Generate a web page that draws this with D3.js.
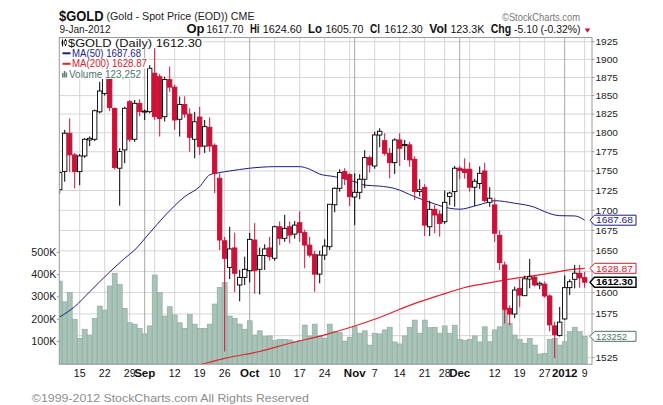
<!DOCTYPE html>
<html><head><meta charset="utf-8">
<script src="https://cdn.jsdelivr.net/npm/d3@7"></script>
<style>
html,body{margin:0;padding:0;background:#fff;}
svg{display:block;}
text{font-family:"Liberation Sans",Arial,sans-serif;}
</style></head><body>
<svg id="c" width="663" height="405"></svg>
<script>
// ---------------- DATA ----------------
const dates = [
"2011-08-09","2011-08-10","2011-08-11","2011-08-12",
"2011-08-15","2011-08-16","2011-08-17","2011-08-18","2011-08-19",
"2011-08-22","2011-08-23","2011-08-24","2011-08-25","2011-08-26",
"2011-08-29","2011-08-30","2011-08-31","2011-09-01","2011-09-02",
"2011-09-06","2011-09-07","2011-09-08","2011-09-09",
"2011-09-12","2011-09-13","2011-09-14","2011-09-15","2011-09-16",
"2011-09-19","2011-09-20","2011-09-21","2011-09-22","2011-09-23",
"2011-09-26","2011-09-27","2011-09-28","2011-09-29","2011-09-30",
"2011-10-03","2011-10-04","2011-10-05","2011-10-06","2011-10-07",
"2011-10-10","2011-10-11","2011-10-12","2011-10-13","2011-10-14",
"2011-10-17","2011-10-18","2011-10-19","2011-10-20","2011-10-21",
"2011-10-24","2011-10-25","2011-10-26","2011-10-27","2011-10-28",
"2011-10-31","2011-11-01","2011-11-02","2011-11-03","2011-11-04",
"2011-11-07","2011-11-08","2011-11-09","2011-11-10","2011-11-11",
"2011-11-14","2011-11-15","2011-11-16","2011-11-17","2011-11-18",
"2011-11-21","2011-11-22","2011-11-23","2011-11-25",
"2011-11-28","2011-11-29","2011-11-30","2011-12-01","2011-12-02",
"2011-12-05","2011-12-06","2011-12-07","2011-12-08","2011-12-09",
"2011-12-12","2011-12-13","2011-12-14","2011-12-15","2011-12-16",
"2011-12-19","2011-12-20","2011-12-21","2011-12-22","2011-12-23",
"2011-12-27","2011-12-28","2011-12-29","2011-12-30",
"2012-01-03","2012-01-04","2012-01-05","2012-01-06","2012-01-09"];

const opens = [1726,1749.5,1799.4,1770.9,
1749.2,1769.5,1790.5,1791.4,1828,
1853,1880,1832.6,1753.6,1777.4,
1841.7,1791.4,1839.5,1828,1828.2,
1880.8,1876,1821.5,1871.9,
1861.6,1818,1838,1825,1791.4,
1821,1782.5,1807.3,1783.4,1740.7,
1662.3,1630,1653.5,1609,1618,
1626,1663.2,1627.7,1644.4,1653.5,
1641,1679.5,1665.3,1679.5,1670.5,
1684.6,1672.3,1657,1645.6,1621.9,
1644.8,1655,1707,1727.8,1749.2,
1745.3,1716.8,1722.7,1739.4,1767.3,
1756.5,1797,1789.6,1773,1760.8,
1790.5,1783,1784,1765.2,1723.6,
1729,1679.5,1701.2,1695.3,
1685.8,1717.5,1723.6,1753.6,1752.3,
1752.3,1729.2,1734,1750,1710.1,
1706.8,1669,1632.9,1581.5,1574.9,
1605,1596.3,1616,1618.3,1609,
1610,1596,1561.2,1550.3,
1569.2,1605.8,1615.7,1623,1617.7];

const highs = [1750,1803.8,1819.3,1773.5,
1772,1793,1795.3,1831,1868.9,
1893,1912,1834,1779.6,1835,
1844,1844,1845,1831,1892,
1916,1880,1876,1890,
1865,1848.6,1849,1832.6,1828,
1834.8,1817,1820.6,1786,1747,
1667,1679.5,1672.3,1626.9,1642.9,
1672,1684,1654,1658,1667,
1681,1686,1694.3,1686,1686.7,
1698.7,1676,1667,1650,1650,
1664,1708,1729,1752.3,1753.6,
1747,1747,1746,1777,1770,
1801.5,1806,1799.4,1780,1792.7,
1799.4,1790.5,1788,1769,1739.4,
1733,1712,1707,1700,
1725,1723.6,1756.5,1756.5,1766.5,
1761,1740,1756,1760.8,1729.2,
1715,1675,1637,1585,1606.9,
1616.3,1620,1640.1,1620,1613,
1613,1598,1566,1583,
1620.3,1615.7,1633,1633,1624.6];

const lows = [1721,1736.3,1749,1727.6,
1731.9,1767,1782.5,1789,1826,
1850,1829,1751.8,1705.8,1760,
1788,1788,1822,1817,1826,
1817,1795,1815,1855,
1804,1795,1820,1775,1766.5,
1770.9,1773.5,1775,1721.5,1651,
1532,1616,1600.5,1589.7,1609,
1612,1598.6,1597.7,1626.9,1638,
1638,1656.9,1661,1659,1665,
1661,1628.9,1642,1600.9,1610.9,
1639,1651,1697.5,1723.6,1732,
1705.4,1681.6,1714,1728,1748,
1753,1781,1770,1740.5,1746.1,
1756.5,1764.3,1755.6,1713,1717.5,
1668,1668,1671.4,1667.3,
1683,1706.5,1704.5,1739.4,1740,
1723.6,1705.4,1727,1710,1704.5,
1661,1626.9,1564,1562,1570,
1582.8,1596,1605,1607,1604,
1594,1555,1524.5,1549,
1568,1597,1605,1605.7,1605.7];

const closes = [1748,1799.4,1770.9,1749.2,
1769.5,1791.4,1792.7,1829.5,1856.3,
1891,1833.8,1754.4,1775.2,1832.8,
1791.4,1839.5,1828.2,1829,1887.7,
1821.5,1819,1872,1861.6,
1817,1838,1825,1794,1814.7,
1781.7,1808.1,1782.5,1747,1663.2,
1640.9,1652.3,1622.9,1618,1627.7,
1664,1626,1644.4,1652.3,1642.9,
1679.5,1665.3,1677.5,1669.3,1681.6,
1672.3,1657,1644.8,1621.9,1644.8,
1655.8,1707.6,1727.8,1748,1740.5,
1717.2,1722.7,1739.4,1767.3,1757.8,
1797.1,1802,1773,1760.8,1790.5,
1779.6,1784.5,1764.3,1723.6,1726,
1681.6,1701.2,1694.1,1683.7,
1710.1,1721.8,1753.6,1750.5,1748,
1729.2,1736.8,1747,1712.3,1715.2,
1671.5,1635.7,1580.4,1574.9,1603,
1597,1616.3,1618.7,1609,1611,
1596,1562.3,1551,1565.5,
1605.8,1612.8,1623,1617.4,1612.3];

const volumes = [371000,278000,319000,200000,
114000,155000,129000,204000,259000,
241000,349000,406000,356000,249000,
184000,178000,159000,134000,170000,
398000,319000,214000,256000,
219000,184000,159000,222000,178000,
159000,159000,178000,268000,343000,
364000,214000,204000,178000,155000,
193000,129000,148000,122000,125000,
104000,110000,110000,107000,99000,
104000,174000,125000,178000,125000,
115000,178000,144000,140000,102000,
119000,166000,137000,148000,84000,
137000,134000,152000,164000,98000,
89000,125000,164000,196000,137000,
196000,162000,164000,137000,
170000,137000,173000,110000,104000,
110000,125000,98000,166000,99000,
152000,166000,241000,182000,129000,
110000,92000,114000,84000,44000,
47000,110000,114000,84000,
99000,144000,164000,144000,123252];

const ma50Dates = ["2011-08-09","2011-08-12","2011-08-17","2011-08-23","2011-08-26","2011-08-30","2011-09-02","2011-09-08","2011-09-14","2011-09-19","2011-09-21","2011-09-23","2011-09-27","2011-10-03","2011-10-10","2011-10-17","2011-10-19","2011-10-21","2011-10-26","2011-11-01","2011-11-03","2011-11-08","2011-11-11","2011-11-17","2011-11-23","2011-11-29","2011-12-01","2011-12-06","2011-12-08","2011-12-12","2011-12-16","2011-12-22","2011-12-27","2011-12-30","2012-01-05","2012-01-09"];
const ma50Values = [1571.5,1583.5,1601,1624.4,1640.9,1651,1672,1693,1717.2,1730,1745,1748,1750,1753.6,1755.6,1755.6,1752.3,1746,1742.7,1736.3,1731.9,1730.6,1727.6,1717.2,1708,1702.6,1701.4,1705.4,1708.9,1712.1,1708.9,1703.8,1698.3,1693.3,1693,1687.68];

const ma200Dates = ["2011-09-19","2011-09-26","2011-10-05","2011-10-13","2011-10-24","2011-11-01","2011-11-07","2011-11-16","2011-11-25","2011-12-02","2011-12-08","2011-12-16","2011-12-27","2012-01-06","2012-01-09"];
const ma200Values = [1517,1524.3,1532,1541.3,1550.8,1561,1568.8,1585,1596.8,1606,1610.6,1616.9,1622,1628.5,1628.87];

const priceTicks = [1525,1550,1575,1600,1625,1650,1675,1700,1725,1750,1775,1800,1825,1850,1875,1900,1925];
const volTicks = [100000,200000,300000,400000,500000];
const volTickLabels = ["100K","200K","300K","400K","500K"];

const xLabelDates = ["2011-08-15","2011-08-22","2011-08-29","2011-09-01","2011-09-12","2011-09-19","2011-09-26","2011-10-03","2011-10-10","2011-10-17","2011-10-24","2011-11-01","2011-11-07","2011-11-14","2011-11-21","2011-11-28","2011-12-01","2011-12-12","2011-12-19","2011-12-27","2012-01-03","2012-01-09"];
const xLabelTexts = ["15","22","29","Sep","12","19","26","Oct","10","17","24","Nov","7","14","21","28","Dec","12","19","27","2012","9"];
const xLabelBold = [0,0,0,1,0,0,0,1,0,0,0,1,0,0,0,0,1,0,0,0,1,0];

const weekGridDates = ["2011-08-15","2011-08-22","2011-08-29","2011-09-06","2011-09-12","2011-09-19","2011-09-26","2011-10-10","2011-10-17","2011-10-24","2011-10-31","2011-11-07","2011-11-14","2011-11-21","2011-11-28","2011-12-05","2011-12-12","2011-12-19","2011-12-27","2012-01-09"];
const monthGridDates = ["2011-09-01","2011-10-03","2011-11-01","2011-12-01","2012-01-03"];

const lastBar = {date:"9-Jan-2012", op:"1617.70", hi:"1624.60", lo:"1605.70", cl:"1612.30", vol:"123.3K", chg:"-5.10 (-0.32%)"};
const legendTexts = ["$GOLD (Daily) 1612.30","MA(50) 1687.68","MA(200) 1628.87","Volume 123,252"];
const lastValues = {ma50:1687.68, ma200:1628.87, close:1612.30, volume:123252};

// ---------------- CHART ----------------
const svg = d3.select("#c");
const P = {left:59.3, right:592, top:37.5, bottom:364.3};
const idx = d => dates.indexOf(d);
const x = d3.scaleLinear().domain([-0.08, 106.46]).range([P.left, P.right]);
const y = d3.scaleLog().domain([1525,1925]).range([357.7,41.7]);
const yv = d3.scaleLinear().domain([0,500000]).range([363.8,252.3]);

const RED = "#cc1038", NAVY = "#1b1b86", MARED = "#e2222e", VOLF = "#a8c3b7", VOLS = "#87a598";

svg.append("defs").append("clipPath").attr("id","pc")
  .append("rect").attr("x",P.left).attr("y",P.top).attr("width",P.right-P.left).attr("height",P.bottom-P.top);

// gridlines
const grid = svg.append("g");
grid.selectAll("line.h").data(priceTicks).join("line")
  .attr("x1",P.left).attr("x2",P.right).attr("y1",d=>y(d)).attr("y2",d=>y(d))
  .attr("stroke","#d6d6d6").attr("stroke-width",1);
grid.selectAll("line.w").data(weekGridDates).join("line")
  .attr("x1",d=>x(idx(d))).attr("x2",d=>x(idx(d))).attr("y1",P.top).attr("y2",P.bottom)
  .attr("stroke","#d6d6d6").attr("stroke-width",1);
grid.selectAll("line.m").data(monthGridDates).join("line")
  .attr("x1",d=>x(idx(d))).attr("x2",d=>x(idx(d))).attr("y1",P.top).attr("y2",P.bottom)
  .attr("stroke","#a8a8a8").attr("stroke-width",1);

const plot = svg.append("g").attr("clip-path","url(#pc)");

// volume
plot.append("g").selectAll("rect").data(volumes).join("rect")
  .attr("x",(d,i)=>x(i)-2.5).attr("width",5)
  .attr("y",d=>yv(d)).attr("height",d=>yv(0)-yv(d))
  .attr("fill",VOLF).attr("stroke",VOLS).attr("stroke-width",0.6);

// moving averages
const ma200 = ma200Dates.map((d,k)=>({i:idx(d), v:ma200Values[k]}));
const ma50 = ma50Dates.map((d,k)=>({i:idx(d), v:ma50Values[k]}));
const line = d3.line().x(d=>x(d.i)).y(d=>y(d.v)).curve(d3.curveMonotoneX);
plot.append("path").attr("d",line(ma200)).attr("fill","none").attr("stroke",MARED).attr("stroke-width",1.2);
plot.append("path").attr("d",line(ma50)).attr("fill","none").attr("stroke",NAVY).attr("stroke-width",1);

// candles
const candles = dates.map((d,i)=>({i, o:opens[i], h:highs[i], l:lows[i], c:closes[i]}));
const cg = plot.append("g");
cg.selectAll("line").data(candles).join("line")
  .attr("x1",d=>x(d.i)).attr("x2",d=>x(d.i)).attr("y1",d=>y(d.h)).attr("y2",d=>y(d.l))
  .attr("stroke",d=>d.c>=d.o?"#000":RED).attr("stroke-width",1);
cg.selectAll("rect").data(candles).join("rect")
  .attr("x",d=>x(d.i)-2.2).attr("width",4.4)
  .attr("y",d=>y(Math.max(d.o,d.c)))
  .attr("height",d=>Math.max(1,Math.abs(y(d.o)-y(d.c))))
  .attr("fill",d=>d.c>=d.o?"#fff":RED)
  .attr("stroke",d=>d.c>=d.o?"#000":RED).attr("stroke-width",0.9);

// legend
const lg = svg.append("g");
const legendRows = [
  {t:legendTexts[0], x:68, b:46.7, w:134, size:11, fam:"DejaVu Sans", col:"#111"},
  {t:legendTexts[1], x:72, b:56.5, w:69, size:10, fam:"Liberation Sans", col:NAVY},
  {t:legendTexts[2], x:72, b:67, w:75, size:10, fam:"Liberation Sans", col:"#d0202c"},
  {t:legendTexts[3], x:69, b:77.5, w:72, size:10, fam:"Liberation Sans", col:"#4d7468"}
];
legendRows.forEach(r=>{
  lg.append("rect").attr("x",P.left+0.5).attr("y",r.b-9).attr("width",r.x+r.w-P.left+1).attr("height",10.5).attr("fill","#fff");
});
legendRows.forEach(r=>{
  lg.append("text").attr("x",r.x).attr("y",r.b).attr("font-size",r.size).attr("font-family",r.fam)
    .attr("fill",r.col).attr("textLength",r.w).attr("lengthAdjust","spacingAndGlyphs").text(r.t);
});
// legend icons
lg.append("line").attr("x1",62.5).attr("x2",62.5).attr("y1",39.5).attr("y2",46.5).attr("stroke","#000");
lg.append("rect").attr("x",61.7).attr("y",41).attr("width",1.6).attr("height",3.5).attr("fill","#000");
lg.append("line").attr("x1",65.5).attr("x2",65.5).attr("y1",39).attr("y2",46).attr("stroke","#000");
lg.append("rect").attr("x",64.7).attr("y",40.5).attr("width",1.6).attr("height",4).attr("fill","#fff").attr("stroke","#000").attr("stroke-width",0.6);
lg.append("line").attr("x1",62.5).attr("x2",70.5).attr("y1",53.3).attr("y2",53.3).attr("stroke",NAVY).attr("stroke-width",2);
lg.append("line").attr("x1",62.5).attr("x2",70.5).attr("y1",63.8).attr("y2",63.8).attr("stroke",MARED).attr("stroke-width",2);
[[62,73,4.5],[63.8,71,6.5],[65.6,72.5,5]].forEach(b=>{
  lg.append("rect").attr("x",b[0]).attr("y",b[1]).attr("width",1.5).attr("height",b[2]).attr("fill","#5f7f74");
});

// border
svg.append("rect").attr("x",P.left).attr("y",P.top).attr("width",P.right-P.left).attr("height",P.bottom-P.top)
  .attr("fill","none").attr("stroke","#9a9a9a").attr("stroke-width",1);

// value boxes
const boxes = [
  {yy:y(lastValues.ma50), txt:lastValues.ma50.toFixed(2), col:NAVY, bold:false, sw:1},
  {yy:y(lastValues.ma200), txt:lastValues.ma200.toFixed(2), col:"#d0202c", bold:false, sw:1},
  {yy:y(lastValues.close), txt:lastValues.close.toFixed(2), col:"#000", bold:true, sw:1.4},
  {yy:yv(lastValues.volume), txt:String(lastValues.volume), col:"#4d7468", bold:false, sw:1}
];

// right price axis
const ax = svg.append("g");
priceTicks.forEach(t=>{
  const yy = y(t);
  if (boxes.some(b=>Math.abs(b.yy-yy)<8)) return;
  ax.append("line").attr("x1",P.right).attr("x2",P.right+2.5).attr("y1",yy).attr("y2",yy).attr("stroke","#9a9a9a");
  ax.append("text").attr("x",595.5).attr("y",yy+3.2).attr("font-size",9).attr("fill","#222")
    .attr("textLength",22.5).attr("lengthAdjust","spacingAndGlyphs").text(t);
});
boxes.forEach(b=>{
  const cy = b.yy, h = 5;
  ax.append("path").attr("d",`M590,${cy} L594.5,${cy-h} L636,${cy-h} L636,${cy+h} L594.5,${cy+h} Z`)
    .attr("fill","#fff").attr("stroke",b.col).attr("stroke-width",b.sw);
  ax.append("text").attr("x",596).attr("y",cy+3.3).attr("font-size",8.8)
    .attr("font-weight",b.bold?"bold":"normal").attr("fill",b.col)
    .attr("textLength",b.txt.length>6?37:31).attr("lengthAdjust","spacingAndGlyphs").text(b.txt);
});

// left volume axis
volTicks.forEach((v,k)=>{
  const yy = yv(v);
  ax.append("line").attr("x1",P.left-2.5).attr("x2",P.left).attr("y1",yy).attr("y2",yy).attr("stroke","#9a9a9a");
  ax.append("text").attr("x",56.3).attr("y",yy+3.5).attr("text-anchor","end").attr("font-size",10).attr("fill","#222")
    .attr("textLength",25).attr("lengthAdjust","spacingAndGlyphs").text(volTickLabels[k]);
});

// x axis labels
xLabelDates.forEach((d,k)=>{
  ax.append("text").attr("x",x(idx(d))).attr("y",377.3).attr("text-anchor","middle")
    .attr("font-size",xLabelBold[k]?11.5:10.5).attr("font-weight",xLabelBold[k]?"bold":"normal")
    .attr("fill","#111").text(xLabelTexts[k]);
});

// header
const hd = svg.append("g");
hd.append("text").attr("x",59).attr("y",20.7).attr("font-size",14).attr("font-weight","bold").attr("fill","#111")
  .attr("textLength",44.5).attr("lengthAdjust","spacingAndGlyphs").text("$GOLD");
hd.append("text").attr("x",106.5).attr("y",20.3).attr("font-size",10.5).attr("fill","#222")
  .attr("textLength",148).attr("lengthAdjust","spacingAndGlyphs").text("(Gold - Spot Price (EOD)) CME");
hd.append("text").attr("x",502).attr("y",20.5).attr("font-size",11.5).attr("fill","#777")
  .attr("textLength",78).attr("lengthAdjust","spacingAndGlyphs").text("©StockCharts.com");
hd.append("text").attr("x",59.5).attr("y",33.3).attr("font-size",10.5).attr("fill","#222")
  .attr("textLength",51).attr("lengthAdjust","spacingAndGlyphs").text(lastBar.date);
const hdItems = [
  ["Op",186.4,18,true],[lastBar.op,206.4,37,false],
  ["Hi",250,9.5,true],[lastBar.hi,262.7,39,false],
  ["Lo",308,14,true],[lastBar.lo,325.4,38,false],
  ["Cl",370,10,true],[lastBar.cl,384.3,38.5,false],
  ["Vol",429.2,18,true],[lastBar.vol,450.4,34,false],
  ["Chg",490.7,20.5,true],[lastBar.chg,514,66.5,false]
];
hdItems.forEach(it=>{
  hd.append("text").attr("x",it[1]).attr("y",33.3).attr("font-size",it[3]?12:10.5)
    .attr("font-weight",it[3]?"bold":"normal").attr("fill","#111")
    .attr("textLength",it[2]).attr("lengthAdjust","spacingAndGlyphs").text(it[0]);
});
hd.append("path").attr("d","M584.7,28.5 L590.3,28.5 L587.5,32.8 Z").attr("fill","#cc1038");

// footer
svg.append("text").attr("x",31.8).attr("y",401.5).attr("font-size",11).attr("fill","#8c8c8c")
  .attr("textLength",277).attr("lengthAdjust","spacingAndGlyphs").text("©1999-2012 StockCharts.com All Rights Reserved");
</script>
</body></html>
